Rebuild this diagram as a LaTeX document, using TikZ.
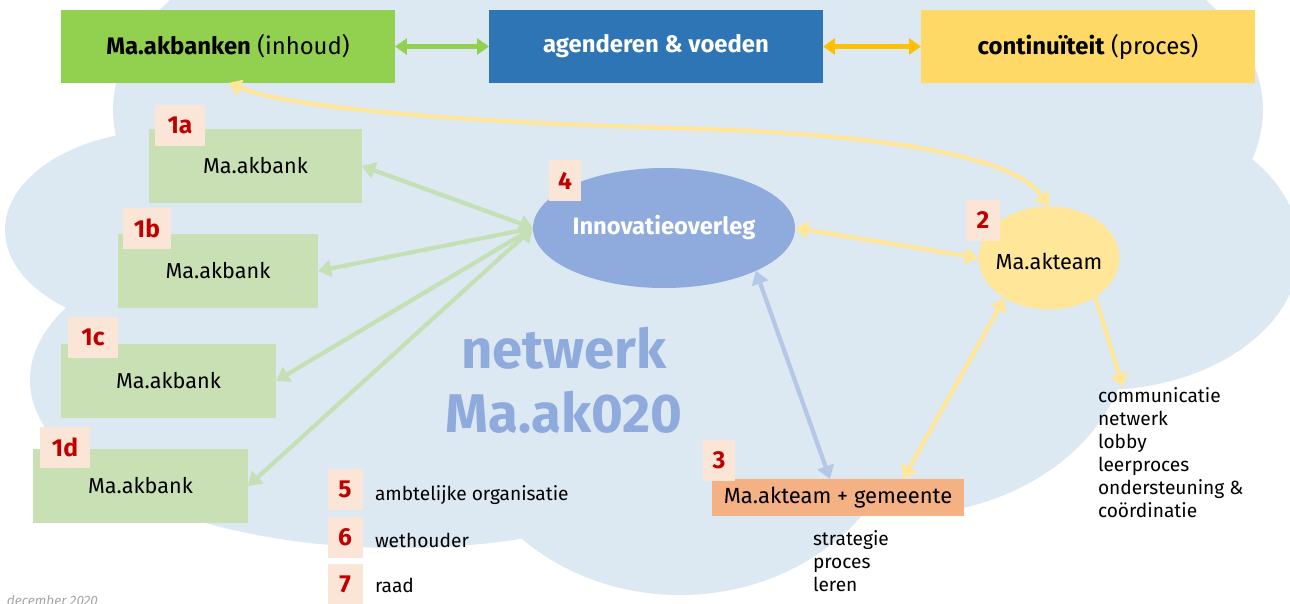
\documentclass[tikz,border=0pt]{standalone}
\usepackage{fontspec}
\setmainfont{Fira Sans}
\usetikzlibrary{arrows.meta,shapes.geometric}
\definecolor{cloudc}{HTML}{DCE8F2}
\definecolor{greenA}{HTML}{92D050}
\definecolor{blueA}{HTML}{2E75B6}
\definecolor{yellowA}{HTML}{FFD966}
\definecolor{bankc}{HTML}{C8E0B4}
\definecolor{labbg}{HTML}{FBE5D6}
\definecolor{numred}{HTML}{C00000}
\definecolor{innovc}{HTML}{8FAADC}
\definecolor{teamc}{HTML}{FFE699}
\definecolor{gemc}{HTML}{F4B183}
\definecolor{orangeA}{HTML}{FFC000}
\definecolor{lblue}{HTML}{B4C7E7}
\definecolor{lgreen}{HTML}{C5E0B4}
\definecolor{grayt}{HTML}{A6A6A6}
\tikzset{
  topbox/.style={rectangle, minimum width=6.68cm, minimum height=1.46cm, font=\fontsize{13.6pt}{16pt}\selectfont},
  bank/.style={rectangle, fill=bankc, minimum height=1.48cm, font=\fontsize{12.3pt}{14pt}\selectfont},
  lab/.style={rectangle, fill=labbg, minimum height=0.82cm, text=numred, font=\bfseries\fontsize{14pt}{16pt}\selectfont},
  smalltext/.style={font=\fontsize{10.9pt}{13pt}\selectfont},
  toparr/.style={line width=2.5pt, {Triangle[length=6.8pt,width=9pt]}-{Triangle[length=6.8pt,width=9pt]}},
  lightarr/.style={line width=2.4pt, {Triangle[length=7.5pt,width=9.5pt]}-{Triangle[length=7.5pt,width=9.5pt]}},
  onearr/.style={line width=2.4pt, -{Triangle[length=7.5pt,width=9.5pt]}},
}
\begin{document}
\begin{tikzpicture}[x=0.02cm,y=-0.02cm, every node/.style={inner sep=0pt, outer sep=0pt}]
\useasboundingbox (0,0) rectangle (1290,603);
\clip (0,0) rectangle (1290,603);
% cloud
\fill[cloudc] (688,110) ellipse [x radius=575, y radius=253];
\fill[cloudc] (170,230) ellipse [x radius=165, y radius=100];
\fill[cloudc] (400,380) ellipse [x radius=370, y radius=168];
\fill[cloudc] (680,390) ellipse [x radius=230, y radius=205];
\fill[cloudc] (900,330) ellipse [x radius=230, y radius=185];
\fill[cloudc] (1100,250) ellipse [x radius=200, y radius=140];
\fill[cloudc] (650,300) ellipse [x radius=450, y radius=200];

% top boxes
\node[topbox, fill=greenA] (mkb) at (228,46.5) {\textbf{Ma.akbanken} (inhoud)};
\node[topbox, fill=blueA, text=white, font=\bfseries\fontsize{13.6pt}{16pt}\selectfont] (agd) at (656,46.5) {agenderen \& voeden};
\node[topbox, fill=yellowA] (cont) at (1088,46.5) {\textbf{continuïteit} (proces)};

% banks
\node[bank, minimum width=4.26cm] (b1a) at (255.5,166) {Ma.akbank};
\node[bank, minimum width=4.0cm] (b1b) at (218,271) {Ma.akbank};
\node[bank, minimum width=4.3cm] (b1c) at (168.5,381) {Ma.akbank};
\node[bank, minimum width=4.3cm] (b1d) at (140.5,486) {Ma.akbank};

% title
\node[text=innovc, align=center, font=\bfseries\fontsize{31pt}{36.3pt}\selectfont] (title) at (564,380) {netwerk\\Ma.ak020};

% ellipses and gemeente box
\node[ellipse, fill=innovc, minimum width=5.24cm, minimum height=2.4cm,
      label={[text=white, font=\bfseries\fontsize{13.5pt}{16pt}\selectfont]center:Innovatieoverleg}] (innov) at (664,228) {};
\node[ellipse, fill=teamc, minimum width=2.82cm, minimum height=2.06cm,
      label={[font=\fontsize{12.4pt}{14pt}\selectfont, yshift=-0.06cm]center:Ma.akteam}] (team) at (1049,258) {};
\node[rectangle, fill=gemc, minimum width=5.04cm, minimum height=0.74cm, font=\fontsize{12.5pt}{14pt}\selectfont] (gem) at (838,497.5) {Ma.akteam + gemeente};

% number labels
\node[lab, minimum width=1.0cm] (l1a) at (180,125.5) {1a};
\node[lab, minimum width=0.96cm] (l1b) at (147,228.5) {1b};
\node[lab, minimum width=1.0cm] (l1c) at (93,337.5) {1c};
\node[lab, minimum width=1.0cm] (l1d) at (65,447) {1d};
\node[lab, minimum width=0.64cm] (l4) at (565,180.5) {4};
\node[lab, minimum width=0.68cm] (l2) at (983,220.5) {2};
\node[lab, minimum width=0.64cm] (l3) at (719,460.5) {3};
\node[lab, minimum width=0.7cm] (l5) at (345,489.5) {5};
\node[lab, minimum width=0.7cm] (l6) at (345,537.5) {6};
\node[lab, minimum width=0.7cm] (l7) at (345,584.5) {7};

% legend texts
\node[smalltext, anchor=base west] (t5) at (375,500) {ambtelijke organisatie};
\node[smalltext, anchor=base west] (t6) at (375,547) {wethouder};
\node[smalltext, anchor=base west] (t7) at (375,592) {raad};

\node[smalltext, anchor=north west, align=left] (strat) at (813,531) {strategie\\proces\\leren};
\node[smalltext, anchor=north west, align=left] (comm) at (1098,388) {communicatie\\netwerk\\lobby\\leerproces\\ondersteuning \&\\coördinatie};

\node[anchor=base west, text=grayt, font=\itshape\fontsize{7.7pt}{9pt}\selectfont] (date) at (7,605) {december 2020};

% connectors
\draw[toparr, greenA] (mkb.east) -- (agd.west);
\draw[toparr, orangeA] (agd.east) -- (cont.west);

\draw[lightarr, lgreen] (innov.west) -- (b1a.east);
\draw[lightarr, lgreen] (innov.west) -- (b1b.east);
\draw[lightarr, lgreen] (innov.west) -- (b1c.east);
\draw[lightarr, lgreen] (innov.west) -- (b1d.east);

\draw[lightarr, teamc] (innov.east) -- (team.west);
\draw[lightarr, lblue] (innov.-25) -- ([xshift=-0.16cm]gem.north);
\draw[lightarr, teamc] (team.-138) -- ([xshift=1.3cm]gem.north);
\coordinate (lt) at (1123,387);
\draw[onearr, teamc] (team.-40) -- (lt);
\draw[lightarr, teamc] (mkb.south) .. controls (300,112) and (520,124) .. (674,128) .. controls (850,133) and (1010,150) .. (team.north);
\end{tikzpicture}
\end{document}
